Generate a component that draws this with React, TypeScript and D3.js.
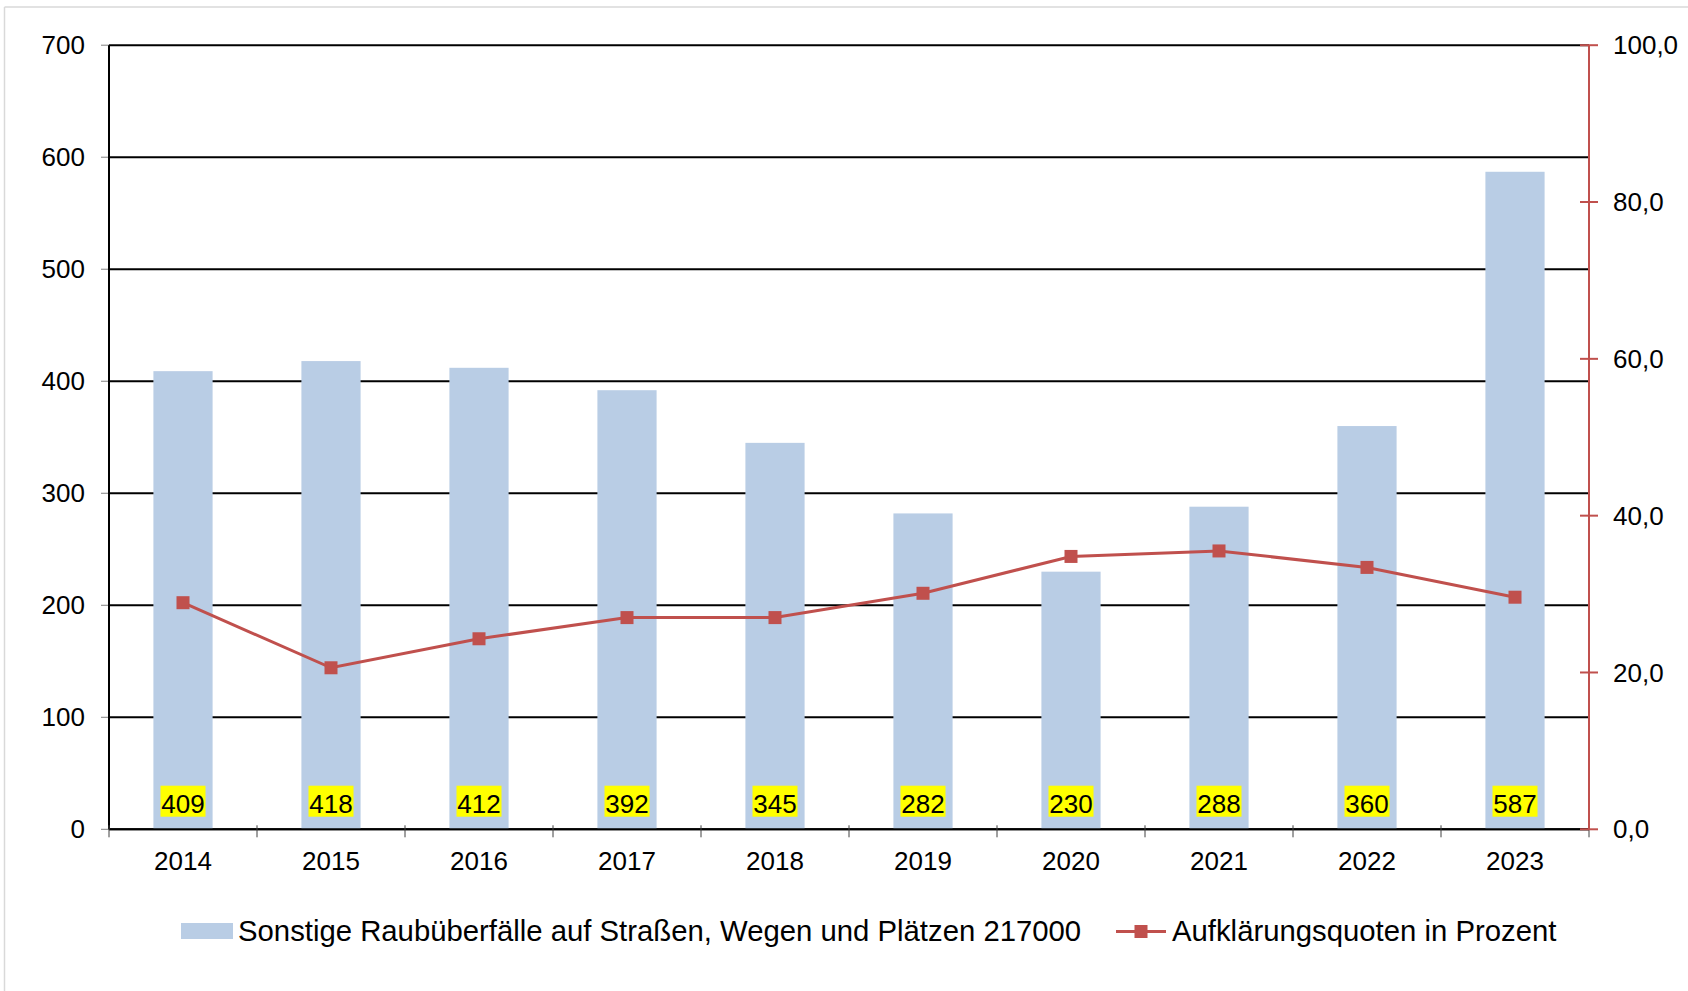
import React from "react";
import * as d3 from "d3";

const years = ["2014", "2015", "2016", "2017", "2018", "2019", "2020", "2021", "2022", "2023"];
const cases = [409, 418, 412, 392, 345, 282, 230, 288, 360, 587];
const clearance = [28.9, 20.6, 24.3, 27.0, 27.0, 30.1, 34.8, 35.5, 33.4, 29.6];
const leftTicks = [0, 100, 200, 300, 400, 500, 600, 700];
const rightTicks = [0, 20, 40, 60, 80, 100];
const barLegend = "Sonstige Raubüberfälle auf Straßen, Wegen und Plätzen 217000";
const lineLegend = "Aufklärungsquoten in Prozent";

const W = 1688;
const H = 991;
const X0 = 109;
const X1 = 1589;
const Y0 = 829.3;
const Y1 = 45.2;
const BAR = "#B9CDE5";
const RED = "#C0504D";
const FONT = "'Liberation Sans', Arial, sans-serif";

export default function App() {
  const x = d3.scaleBand<string>().domain(years).range([X0, X1]).paddingInner(0.6).paddingOuter(0.3);
  const step = x.step();
  const yL = d3.scaleLinear().domain([0, 700]).range([Y0, Y1]);
  const yR = d3.scaleLinear().domain([0, 100]).range([Y0, Y1]);
  const cx = (d: string) => (x(d) as number) + x.bandwidth() / 2;
  const line = d3
    .line<number>()
    .x((_, i) => cx(years[i]))
    .y((v) => yR(v));
  const fmt = (v: number) => v.toFixed(1).replace(".", ",");
  const boundaries = d3.range(years.length + 1).map((i) => X0 + i * step);

  return (
    <svg
      width={W}
      height={H}
      style={{ position: "absolute", left: 0, top: 0, background: "#fff" }}
      fontFamily={FONT}
    >
      <rect x={0} y={0} width={W} height={H} fill="#fff" />
      {/* outer frame */}
      <line x1={4.5} x2={W} y1={7} y2={7} stroke="#D9D9D9" strokeWidth={1.5} />
      <line x1={4.5} x2={4.5} y1={7} y2={H} stroke="#D9D9D9" strokeWidth={1.5} />

      {/* gridlines */}
      {leftTicks.map((t) => (
        <line key={"g" + t} x1={X0} x2={X1} y1={yL(t)} y2={yL(t)} stroke="#000" strokeWidth={2} />
      ))}
      {/* left ticks and labels */}
      {leftTicks.map((t) => (
        <g key={"l" + t}>
          <line x1={X0 - 8} x2={X0} y1={yL(t)} y2={yL(t)} stroke="#808080" strokeWidth={1} />
          <text x={85} y={yL(t)} dy="0.35em" textAnchor="end" fontSize={26} fill="#000">
            {t}
          </text>
        </g>
      ))}

      {/* bars */}
      {years.map((yr, i) => (
        <rect
          key={"b" + yr}
          x={x(yr)}
          y={yL(cases[i])}
          width={x.bandwidth()}
          height={Y0 - yL(cases[i])}
          fill={BAR}
        />
      ))}

      {/* axes lines */}
      <line x1={X0} x2={X0} y1={Y1} y2={Y0} stroke="#000" strokeWidth={2} />
      <line x1={X0} x2={X1} y1={Y0} y2={Y0} stroke="#000" strokeWidth={2} />
      {boundaries.map((bx, i) => (
        <line key={"t" + i} x1={bx} x2={bx} y1={Y0 - 4} y2={Y0 + 8} stroke="#404040" strokeWidth={1} />
      ))}
      {years.map((yr) => (
        <text key={"x" + yr} x={cx(yr)} y={870} textAnchor="middle" fontSize={26} fill="#000">
          {yr}
        </text>
      ))}

      {/* right axis */}
      <line x1={X1} x2={X1} y1={Y1} y2={Y0} stroke={RED} strokeWidth={2} />
      {rightTicks.map((t) => (
        <g key={"r" + t}>
          <line x1={X1 - 9} x2={X1 + 9} y1={yR(t)} y2={yR(t)} stroke={RED} strokeWidth={2} />
          <text x={1613} y={yR(t)} dy="0.35em" textAnchor="start" fontSize={26} fill="#000">
            {fmt(t)}
          </text>
        </g>
      ))}

      {/* value labels */}
      {years.map((yr, i) => (
        <g key={"v" + yr}>
          <rect x={cx(yr) - 22.5} y={785.7} width={45} height={31} fill="#FFFF00" />
          <text x={cx(yr)} y={813} textAnchor="middle" fontSize={26} fill="#000">
            {cases[i]}
          </text>
        </g>
      ))}

      {/* line series */}
      <path d={line(clearance) || ""} fill="none" stroke={RED} strokeWidth={3} />
      {clearance.map((v, i) => (
        <rect key={"m" + i} x={cx(years[i]) - 6.5} y={yR(v) - 6.5} width={13} height={13} fill={RED} />
      ))}

      {/* legend */}
      <rect x={181} y={923} width={52} height={16} fill={BAR} />
      <text x={238} y={941} fontSize={29.3} fill="#000">
        {barLegend}
      </text>
      <line x1={1116} x2={1166} y1={931.5} y2={931.5} stroke={RED} strokeWidth={3} />
      <rect x={1134.5} y={925} width={13} height={13} fill={RED} />
      <text x={1172} y={941} fontSize={29.3} fill="#000">
        {lineLegend}
      </text>
    </svg>
  );
}
